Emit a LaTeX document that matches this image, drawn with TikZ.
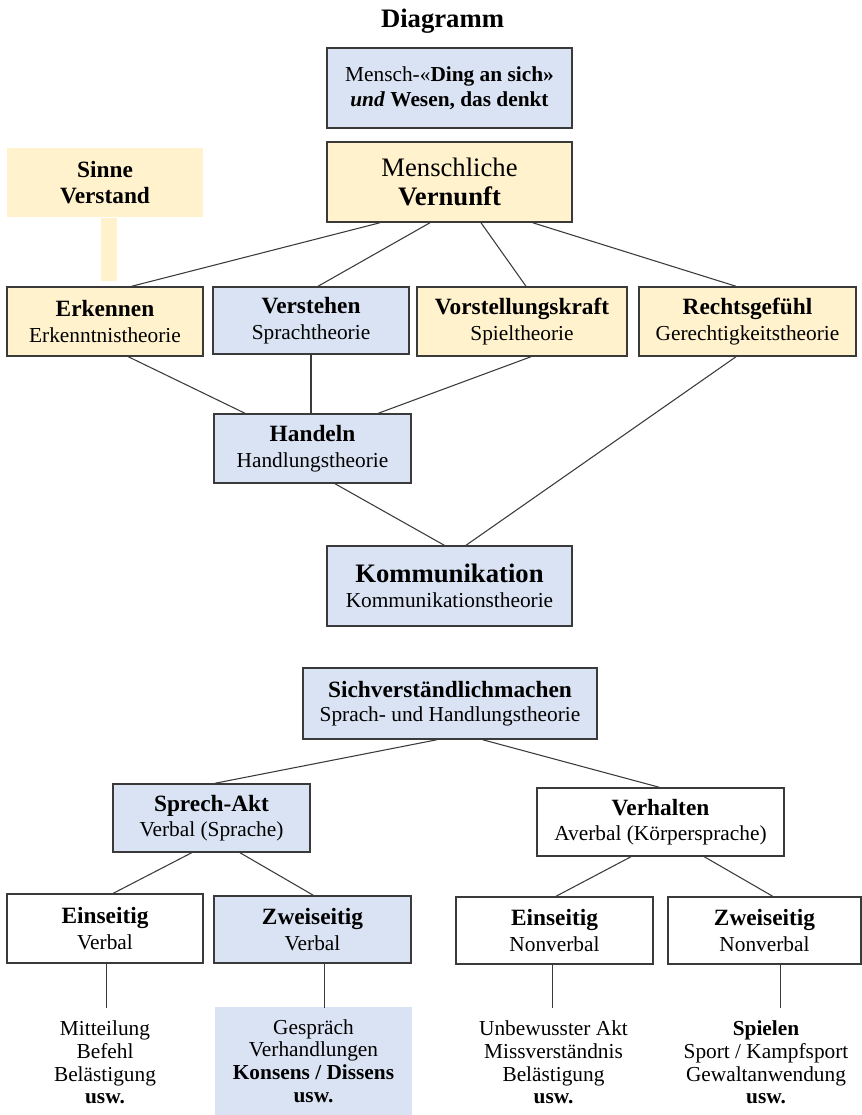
\documentclass[tikz,border=0pt]{standalone}
\usepackage{fontspec}
\setmainfont{Liberation Serif}
\usetikzlibrary{calc}
\definecolor{bl}{HTML}{DAE3F3}
\definecolor{yl}{HTML}{FFF2CC}
\definecolor{ln}{HTML}{3A3A3A}
\newcommand\hd[1]{{\bfseries\fontsize{17.5}{19.2}\selectfont #1}}
\begin{document}
\begin{tikzpicture}[x=0.75pt,y=-0.75pt,
  box/.style={draw=ln, line width=1.1pt, inner sep=0pt, align=center,
    font=\fontsize{16}{19.2}\selectfont},
  bbox/.style={box, fill=bl},
  ybox/.style={box, fill=yl},
  wbox/.style={box, fill=white},
  conn/.style={draw=ln, line width=0.8pt},
  list/.style={inner sep=0pt, align=center, font=\fontsize{16}{17.1}\selectfont}]
\useasboundingbox (0,0) rectangle (862,1115);

\node[font=\bfseries\fontsize{20}{24}\selectfont, anchor=base] (title) at (442.5,27) {Diagramm};

% upper part
\node[bbox, minimum width=183.75pt, minimum height=60pt, font=\fontsize{16}{18.75}\selectfont] (mensch) at (449.5,88)
  {Mensch-«\textbf{Ding an sich»}\\ \textbf{\textit{und} Wesen, das denkt}};
\node[ybox, minimum width=183.75pt, minimum height=60pt, font=\fontsize{20}{21.75}\selectfont] (vern) at (449.5,182)
  {Menschliche\\ \textbf{Vernunft}};
\node[box, draw=none, fill=yl, minimum width=147pt, minimum height=51.75pt, font=\bfseries\fontsize{17.5}{20}\selectfont] (sinne) at (105,182.5)
  {Sinne\\ Verstand};
\fill[yl] ($(sinne.south)+(-4,0)$) rectangle ($(sinne.south)+(12,63)$);

\node[ybox, minimum width=147pt, minimum height=51.75pt] (erk) at (105,321.5)
  {\hd{Erkennen}\\ Erkenntnistheorie};
\node[bbox, minimum width=147pt, minimum height=50.25pt] (verst) at (311,320.5)
  {\hd{Verstehen}\\ Sprachtheorie};
\node[ybox, minimum width=157.5pt, minimum height=51.75pt] (vorst) at (522,321.5)
  {\hd{Vorstellungskraft}\\ Spieltheorie};
\node[ybox, minimum width=162.75pt, minimum height=51.75pt] (recht) at (747.5,321.5)
  {\hd{Rechtsgefühl}\\ Gerechtigkeitstheorie};
\node[bbox, minimum width=147.75pt, minimum height=51.75pt] (hand) at (312.5,448.5)
  {\hd{Handeln}\\ Handlungstheorie};
\node[bbox, minimum width=183.75pt, minimum height=60pt, font=\fontsize{16}{18.75}\selectfont] (komm) at (449.5,586)
  {{\bfseries\fontsize{20}{18.75}\selectfont Kommunikation}\\ Kommunikationstheorie};

\draw[conn] ($(vern.south)+(-69.5,0)$) -- ($(erk.north)+(26.7,0)$);
\draw[conn] ($(vern.south)+(-19.5,0)$) -- ($(verst.north)+(7,0)$);
\draw[conn] ($(vern.south)+(31.5,0)$) -- ($(vorst.north)+(4,0)$);
\draw[conn] ($(vern.south)+(83.2,0)$) -- ($(recht.north)+(-11.5,0)$);
\draw[conn] ($(erk.south)+(23.3,0)$) -- ($(hand.north)+(-67.5,0)$);
\draw[conn] ($(verst.south)+(0,0)$) -- ($(hand.north)+(-1.5,0)$);
\draw[conn] ($(vorst.south)+(9,0)$) -- ($(hand.north)+(65.8,0)$);
\draw[conn] ($(hand.south)+(22.5,0)$) -- ($(komm.north)+(-5.2,0)$);
\draw[conn] ($(recht.south)+(-11.5,0)$) -- ($(komm.north)+(16.5,0)$);

% lower part
\node[bbox, minimum width=220.5pt, minimum height=53.25pt, font=\fontsize{16}{18}\selectfont] (sich) at (450,703.5)
  {{\bfseries\fontsize{17.5}{18}\selectfont Sichverständlichmachen}\\ Sprach- und Handlungstheorie};
\node[bbox, minimum width=147.75pt, minimum height=51pt] (sprech) at (211.5,818)
  {\hd{Sprech-Akt}\\ Verbal (Sprache)};
\node[wbox, minimum width=185.25pt, minimum height=51pt] (verh) at (660.5,822)
  {\hd{Verhalten}\\ Averbal (Körpersprache)};
\node[wbox, minimum width=147pt, minimum height=51.75pt] (ein1) at (105,928.5)
  {\hd{Einseitig}\\ Verbal};
\node[bbox, minimum width=147.75pt, minimum height=50.25pt] (zwei1) at (312.5,929.5)
  {\hd{Zweiseitig}\\ Verbal};
\node[wbox, minimum width=147.75pt, minimum height=50.25pt] (ein2) at (554.5,930.5)
  {\hd{Einseitig}\\ Nonverbal};
\node[wbox, minimum width=144.75pt, minimum height=50.25pt] (zwei2) at (764.5,930.5)
  {\hd{Zweiseitig}\\ Nonverbal};

\draw[conn] ($(sich.south)+(-13,0)$) -- ($(sprech.north)+(3.5,0)$);
\draw[conn] ($(sich.south)+(32.7,0)$) -- ($(verh.north)+(-1.2,0)$);
\draw[conn] ($(sprech.south)+(-19.8,0)$) -- ($(ein1.north)+(8.3,0)$);
\draw[conn] ($(sprech.south)+(28.5,0)$) -- ($(zwei1.north)+(0.8,0)$);
\draw[conn] ($(verh.south)+(-29.5,0)$) -- ($(ein2.north)+(1.5,0)$);
\draw[conn] ($(verh.south)+(43.8,0)$) -- ($(zwei2.north)+(8.2,0)$);

% lists
\node[list] (l1) at (105,1062.5)
  {Mitteilung\\ Befehl\\ Belästigung\\ \textbf{usw.}};
\node[list, fill=bl, minimum width=147.75pt, minimum height=81pt] (l2) at (313.5,1061)
  {Gespräch\\ Verhandlungen\\ \textbf{Konsens / Dissens}\\ \textbf{usw.}};
\node[list] (l3) at (553.5,1062.5)
  {Unbewusster Akt\\ Missverständnis\\ Belästigung\\ \textbf{usw.}};
\node[list] (l4) at (766,1062.5)
  {\textbf{Spielen}\\ Sport / Kampfsport\\ Gewaltanwendung\\ \textbf{usw.}};

\coordinate (c1) at (106.7,1008);
\coordinate (c2) at (324.3,1008);
\coordinate (c3) at (552.7,1008);
\coordinate (c4) at (780.6,1008);
\draw[conn] (ein1.south -| c1) -- (c1);
\draw[conn] (zwei1.south -| c2) -- (c2);
\draw[conn] (ein2.south -| c3) -- (c3);
\draw[conn] (zwei2.south -| c4) -- (c4);
\end{tikzpicture}
\end{document}
